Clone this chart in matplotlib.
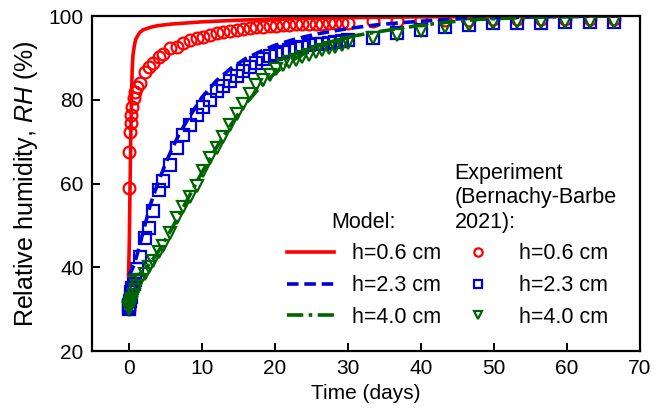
import matplotlib
matplotlib.use("Agg")
import matplotlib.pyplot as plt
from matplotlib.lines import Line2D

plt.rcParams['font.family'] = ['Liberation Sans', 'DejaVu Sans']
plt.rcParams['mathtext.fontset'] = 'custom'
plt.rcParams['mathtext.it'] = 'Liberation Sans:italic'
plt.rcParams['mathtext.rm'] = 'Liberation Sans'

# ---- model curves (time in days, RH in %) ----
t_model_06 = [0, 0.1, 0.2, 0.3, 0.4, 0.5, 0.6, 0.8, 1.0, 1.5, 2, 3, 4, 6, 10, 15, 20, 30, 40, 50, 67]
rh_model_06 = [38, 45, 58, 70, 80, 87, 90.5, 93, 94.5, 96, 96.7, 97.3, 97.7, 98.1, 98.6, 99.0, 99.3, 99.6, 99.8, 99.9, 100]

t_model_23 = [0, 0.5, 1, 1.5, 2, 3, 4, 5, 6, 7, 8, 10, 12, 14, 16, 18, 20, 23, 26, 30, 34, 38, 42, 46, 50, 60, 67]
rh_model_23 = [38, 39.5, 42, 45, 48.5, 55, 60, 64.5, 68.5, 72, 75, 80.5, 84.5, 87.5, 89.8, 91.5, 93, 94.6, 95.8, 97, 97.9, 98.5, 99.0, 99.4, 99.6, 99.9, 100]

t_model_40 = [0, 1.5, 2.5, 4, 6, 8, 10, 12, 14, 16, 18, 20, 22, 25, 28, 31, 34, 37, 40, 44, 48, 55, 67]
rh_model_40 = [38, 38.3, 40, 43.5, 49.5, 56, 62.5, 68.5, 74, 79, 83, 86.3, 89, 92, 94, 95.3, 96.2, 97, 97.8, 98.6, 99.2, 99.7, 100]

# ---- experimental data (Bernachy-Barbe 2021) ----
t_exp = [0.0, 0.05, 0.1, 0.2, 0.3, 0.4, 0.5, 0.7, 0.9, 1.2, 1.6,
         2.3, 2.8, 3.4, 4.2, 4.7, 5.7, 6.6, 7.5, 8.4, 9.4,
         10.2, 11.1, 12.1, 13.0, 13.9, 14.8, 15.7, 16.6, 17.5, 18.4,
         19.3, 20.2, 21.1, 22.0, 22.9, 23.8, 24.7, 25.6, 26.5, 27.4,
         28.3, 29.2, 30.1,
         33.4, 36.7, 40.0, 43.3, 46.6, 49.9, 53.2, 56.5, 59.8, 63.1, 66.4]
rh_exp_06 = [30, 59, 67.5, 72.3, 74.5, 76.3, 78.2, 80.4, 81.8, 83.0, 84.0,
             86.6, 87.8, 88.7, 90.2, 91.0, 92.3, 92.6, 93.5, 94.2, 94.7,
             95.0, 95.4, 95.9, 96.2, 96.5, 96.7, 96.9, 97.1, 97.3, 97.4,
             97.5, 97.7, 97.8, 97.9, 98.0, 98.0, 98.1, 98.2, 98.2, 98.3,
             98.3, 98.4, 98.4,
             98.8, 98.9, 99.0, 99.1, 99.1, 99.2, 99.2, 99.2, 99.2, 99.2, 99.2]
rh_exp_23 = [30, 30.5, 31, 32, 33, 34, 35, 36, 37, 39.5, 42.4,
             47, 49.5, 53.5, 58.4, 60.5, 64.5, 68.5, 71.6, 74, 76.3,
             78.2, 79.9, 82, 83.3, 84.5, 85.6, 86.8, 87.9, 88.9, 89.7,
             90.4, 91.0, 91.5, 92.0, 92.4, 92.7, 93.0, 93.2, 93.4, 93.6,
             93.8, 94.0, 94.2,
             94.7, 95.9, 96.6, 97.3, 97.8, 98.3, 98.4, 98.4, 98.5, 98.5, 98.5]
rh_exp_40 = [30, 30.3, 30.6, 31, 31.5, 32, 32.5, 33.5, 34.5, 35.5, 37,
             38.5, 40, 41.5, 43.6, 45, 48.3, 51.7, 54.3, 56.8, 59.4,
             63, 66, 68.5, 71, 74, 76.5, 79, 81.5, 83.5, 84.8,
             86, 87.3, 88.2, 89, 89.6, 90.2, 90.7, 91.3, 91.8, 92.3,
             92.7, 93.1, 93.5,
             94.7, 95.4, 96.4, 97.3, 97.9, 98.3, 98.5, 98.5, 98.6, 98.6, 98.6]

labels = ['h=0.6 cm', 'h=2.3 cm', 'h=4.0 cm']
RED, BLUE, GREEN = '#ff0000', '#0000dd', '#006400'

FS = 15
LFS = 15.5
fig = plt.figure(figsize=(6.68, 4.16), dpi=100)
ax = fig.add_axes([0.1377, 0.156, 0.8203, 0.8055])

lw = 2.6
mk = dict(markersize=8.5, markerfacecolor='none', markeredgewidth=1.6, linestyle='none')

ax.plot(t_exp, rh_exp_06, marker='o', color=RED, **mk)
ax.plot(t_exp, rh_exp_23, marker='s', color=BLUE, **mk)
ax.plot(t_exp, rh_exp_40, marker='v', color=GREEN, **mk)

l1, = ax.plot(t_model_06, rh_model_06, color=RED, lw=lw, linestyle='-')
l2, = ax.plot(t_model_23, rh_model_23, color=BLUE, lw=lw, linestyle=(0, (3.2, 1.6)))
l3, = ax.plot(t_model_40, rh_model_40, color=GREEN, lw=lw, linestyle=(0, (4.5, 1.5, 1, 1.5)))

ax.set_xlim(-5, 70)
ax.set_ylim(20, 100)
ax.set_xticks(range(0, 71, 10))
ax.set_yticks(range(20, 101, 20))
ax.tick_params(direction='in', length=6, width=1.4, labelsize=FS, pad=6,
               top=False, right=False)
for s in ax.spines.values():
    s.set_linewidth(1.6)

ax.set_xlabel('Time (days)', fontsize=FS, labelpad=4)
ax.set_ylabel('Relative humidity, $RH$ (%)', fontsize=18, labelpad=6)

leg_kw = dict(frameon=False, fontsize=LFS, handlelength=2.2, handletextpad=0.8,
              labelspacing=0.5, borderpad=0, borderaxespad=0, loc='lower left')

model_handles = [l1, l2, l3]
leg1 = ax.legend(model_handles, labels, title='Model:', title_fontsize=LFS,
                 bbox_to_anchor=(0.356, 0.069), **leg_kw)
ax.add_artist(leg1)

exp_handles = [
    Line2D([], [], marker='o', color=RED, markersize=6, markerfacecolor='none', markeredgewidth=1.6, linestyle='none'),
    Line2D([], [], marker='s', color=BLUE, markersize=6, markerfacecolor='none', markeredgewidth=1.6, linestyle='none'),
    Line2D([], [], marker='v', color=GREEN, markersize=6, markerfacecolor='none', markeredgewidth=1.6, linestyle='none'),
]
leg2 = ax.legend(exp_handles, labels, title='Experiment\n(Bernachy-Barbe\n2021):',
                 title_fontsize=LFS, bbox_to_anchor=(0.662, 0.069), **leg_kw)
leg2._legend_box.align = 'left'

fig.savefig('out.png', dpi=100)
